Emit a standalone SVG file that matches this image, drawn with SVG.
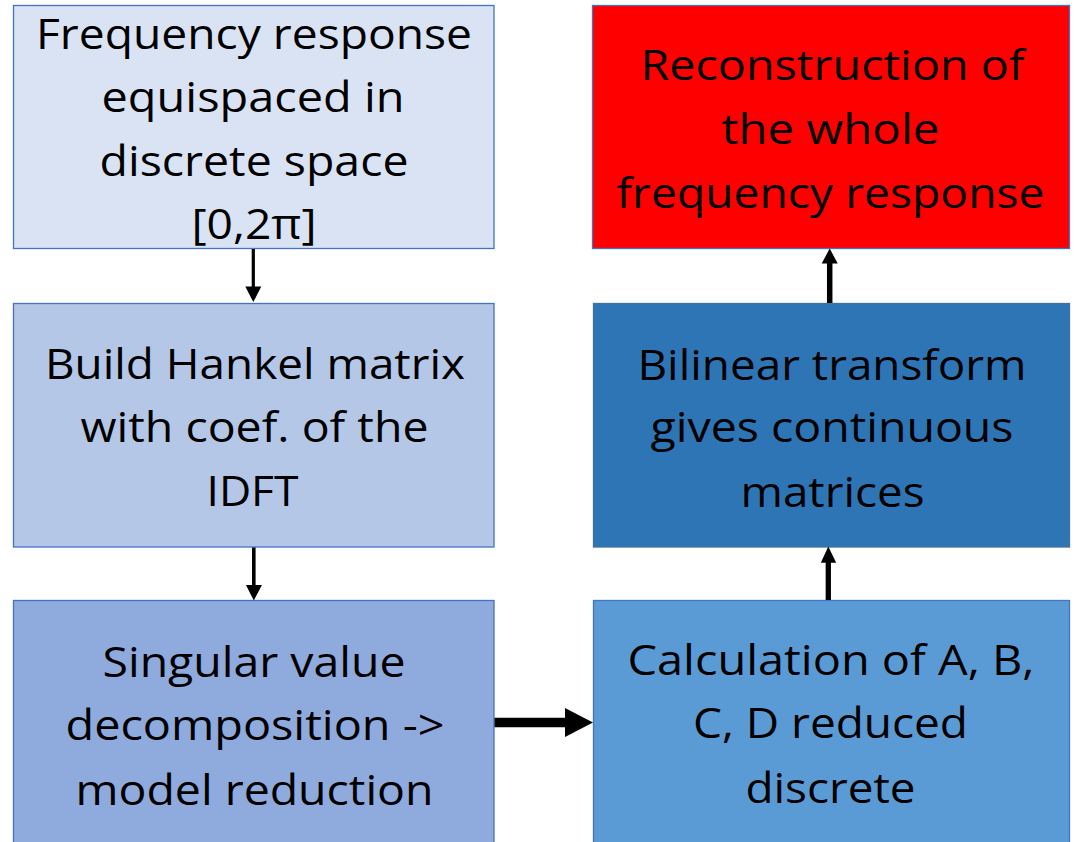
<svg xmlns="http://www.w3.org/2000/svg" width="1076" height="842" viewBox="0 0 1076 842">
<style>
.box{stroke:#4472C4;stroke-width:1.3}
.t{font-family:"Open Sans","Liberation Sans",sans-serif;font-size:42px;fill:#000;text-anchor:middle}
.c{fill:none;stroke:#000}
</style>
<rect width="1076" height="842" fill="#fff"/>
<g id="n1">
<rect class="box" x="13.5" y="5.5" width="480.5" height="243" fill="#DAE3F3"/>
<text class="t" x="254" y="49" textLength="436" lengthAdjust="spacingAndGlyphs">Frequency response</text>
<text class="t" x="253" y="112" textLength="303" lengthAdjust="spacingAndGlyphs">equispaced in</text>
<text class="t" x="254" y="176" textLength="309" lengthAdjust="spacingAndGlyphs">discrete space</text>
<text class="t" x="254" y="239" textLength="125" lengthAdjust="spacingAndGlyphs">[0,2π]</text>
</g>
<g id="n2">
<rect class="box" x="13.5" y="303.5" width="480.5" height="243.5" fill="#B4C7E7"/>
<text class="t" x="255" y="379" textLength="420" lengthAdjust="spacingAndGlyphs">Build Hankel matrix</text>
<text class="t" x="254.5" y="442" textLength="348" lengthAdjust="spacingAndGlyphs">with coef. of the</text>
<text class="t" x="252.5" y="506" textLength="92" lengthAdjust="spacingAndGlyphs">IDFT</text>
</g>
<g id="n3">
<rect class="box" x="13.5" y="600.5" width="480.5" height="260" fill="#8FAADC"/>
<text class="t" x="254" y="677" textLength="303" lengthAdjust="spacingAndGlyphs">Singular value</text>
<text class="t" x="255" y="740" textLength="379" lengthAdjust="spacingAndGlyphs">decomposition -&gt;</text>
<text class="t" x="254.5" y="805" textLength="358" lengthAdjust="spacingAndGlyphs">model reduction</text>
</g>
<g id="n4">
<rect class="box" x="592.5" y="5.5" width="477" height="243" fill="#FF0000"/>
<text class="t" x="832.5" y="80" textLength="384" lengthAdjust="spacingAndGlyphs">Reconstruction of</text>
<text class="t" x="830.5" y="144" textLength="218" lengthAdjust="spacingAndGlyphs">the whole</text>
<text class="t" x="830.5" y="208" textLength="428" lengthAdjust="spacingAndGlyphs">frequency response</text>
</g>
<g id="n5">
<rect x="593.5" y="303.5" width="476" height="243.5" fill="#2E75B6" stroke="#41719C" stroke-width="1.3"/>
<text class="t" x="832" y="380" textLength="389" lengthAdjust="spacingAndGlyphs">Bilinear transform</text>
<text class="t" x="832" y="442" textLength="363" lengthAdjust="spacingAndGlyphs">gives continuous</text>
<text class="t" x="832.5" y="507" textLength="184" lengthAdjust="spacingAndGlyphs">matrices</text>
</g>
<g id="n6">
<rect class="box" x="593.5" y="600.5" width="476" height="260" fill="#5B9BD5"/>
<text class="t" x="831" y="675" textLength="407" lengthAdjust="spacingAndGlyphs">Calculation of A, B,</text>
<text class="t" x="830.5" y="738" textLength="275" lengthAdjust="spacingAndGlyphs">C, D reduced</text>
<text class="t" x="830.5" y="803" textLength="170" lengthAdjust="spacingAndGlyphs">discrete</text>
</g>
<g id="connectors">
<line class="c" x1="253.3" y1="249" x2="253.3" y2="288" stroke-width="3.2"/>
<polygon points="245.3,286.5 261.3,286.5 253.3,302" fill="#000"/>
<line class="c" x1="253.8" y1="547.5" x2="253.8" y2="586" stroke-width="3.6"/>
<polygon points="246,585 262,585 253.8,600.5" fill="#000"/>
<line class="c" x1="494.5" y1="722.5" x2="567" y2="722.5" stroke-width="9.5"/>
<polygon points="565,708 565,737 593,722.5" fill="#000"/>
<line class="c" x1="828.3" y1="600" x2="828.3" y2="561" stroke-width="5.3"/>
<polygon points="820.8,562.7 836.2,562.7 828.3,546.5" fill="#000"/>
<line class="c" x1="829.7" y1="303" x2="829.7" y2="262" stroke-width="5.5"/>
<polygon points="821.7,263.5 837.7,263.5 829.7,248.5" fill="#000"/>
</g>
</svg>
